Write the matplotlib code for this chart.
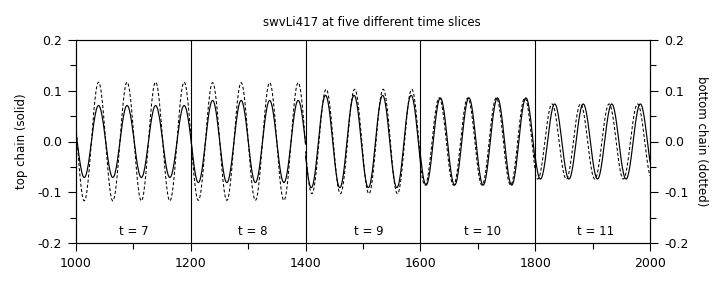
"""Plot swvLi417 at five different time slices."""

import numpy as np
import matplotlib
matplotlib.use('Agg')
import matplotlib.pyplot as plt

# time slices shown side by side, each 200 sites wide
slice_labels = ['t = 7', 't = 8', 't = 9', 't = 10', 't = 11']
slice_starts = [1000, 1200, 1400, 1600, 1800]
slice_width = 200
label_x = [1100, 1308, 1510, 1709, 1906]

# wave parameters for each slice
wavelength = [49.7, 49.7, 49.7, 49.7, 49.7]
top_amp = [0.071, 0.081, 0.091, 0.086, 0.074]
bottom_amp = [0.117, 0.116, 0.103, 0.086, 0.074]
top_shift = [2.0, 0.7, -2.5, -2.5, -3.3]
bottom_shift = [2.0, 0.7, -1.5, -4.5, -8.0]

y_ticks = [-0.2, -0.1, 0.0, 0.1, 0.2]
x_ticks = [1000, 1200, 1400, 1600, 1800, 2000]

plt.rcParams['font.family'] = ['DejaVu Sans']
plt.rcParams['font.size'] = 8

fig = plt.figure(figsize=(7.16, 2.87), dpi=100)
ax = fig.add_axes([76 / 716, 1 - 243 / 287, 574 / 716, 203 / 287])

for i in range(len(slice_starts)):
    s = slice_starts[i]
    x = np.arange(s, s + slice_width + 1, 1.0)
    top = -top_amp[i] * np.sin(2 * np.pi * (x - s - top_shift[i]) / wavelength[i])
    bottom = -bottom_amp[i] * np.sin(2 * np.pi * (x - s - bottom_shift[i]) / wavelength[i])
    ax.plot(x, top, color='black', lw=0.85)
    ax.plot(x, bottom, color='black', lw=0.75, dashes=(3, 2))
    ax.text(label_x[i], -0.178, slice_labels[i], ha='center', va='center', fontsize=8.5)
    if i > 0:
        ax.axvline(s, color='black', lw=0.8)

ax.set_xlim(1000, 2000)
ax.set_ylim(-0.2, 0.2)
ax.set_xticks(x_ticks)
ax.set_xticks(np.arange(1100, 2000, 200), minor=True)
ax.set_yticks(y_ticks)
ax.set_yticks(np.arange(-0.15, 0.2, 0.1), minor=True)
ax.set_yticklabels(['%.1f' % v for v in y_ticks])
ax.tick_params(which='major', length=6, width=0.8, direction='out', pad=4, labelsize=9)
ax.tick_params(which='minor', length=4, width=0.8, direction='out')
for sp in ax.spines.values():
    sp.set_linewidth(0.8)

ax2 = ax.twinx()
ax2.set_ylim(-0.2, 0.2)
ax2.set_yticks(y_ticks)
ax2.set_yticks(np.arange(-0.15, 0.2, 0.1), minor=True)
ax2.set_yticklabels(['%.1f' % v for v in y_ticks])
ax2.tick_params(which='major', length=6, width=0.8, direction='out', pad=4, labelsize=9)
ax2.tick_params(which='minor', length=4, width=0.8, direction='out')
for sp in ax2.spines.values():
    sp.set_linewidth(0.8)

ax.set_ylabel('top chain (solid)', fontsize=8.5)
ax.yaxis.set_label_coords(-0.084, 0.5)
ax2.set_ylabel('bottom chain (dotted)', fontsize=8.5, rotation=-90)
ax2.yaxis.set_label_coords(1.101, 0.5)

fig.text(372 / 716, 1 - 23 / 287, 'swvLi417 at five different time slices',
         ha='center', va='center', fontsize=8.5)

fig.savefig('out.png', dpi=100)
